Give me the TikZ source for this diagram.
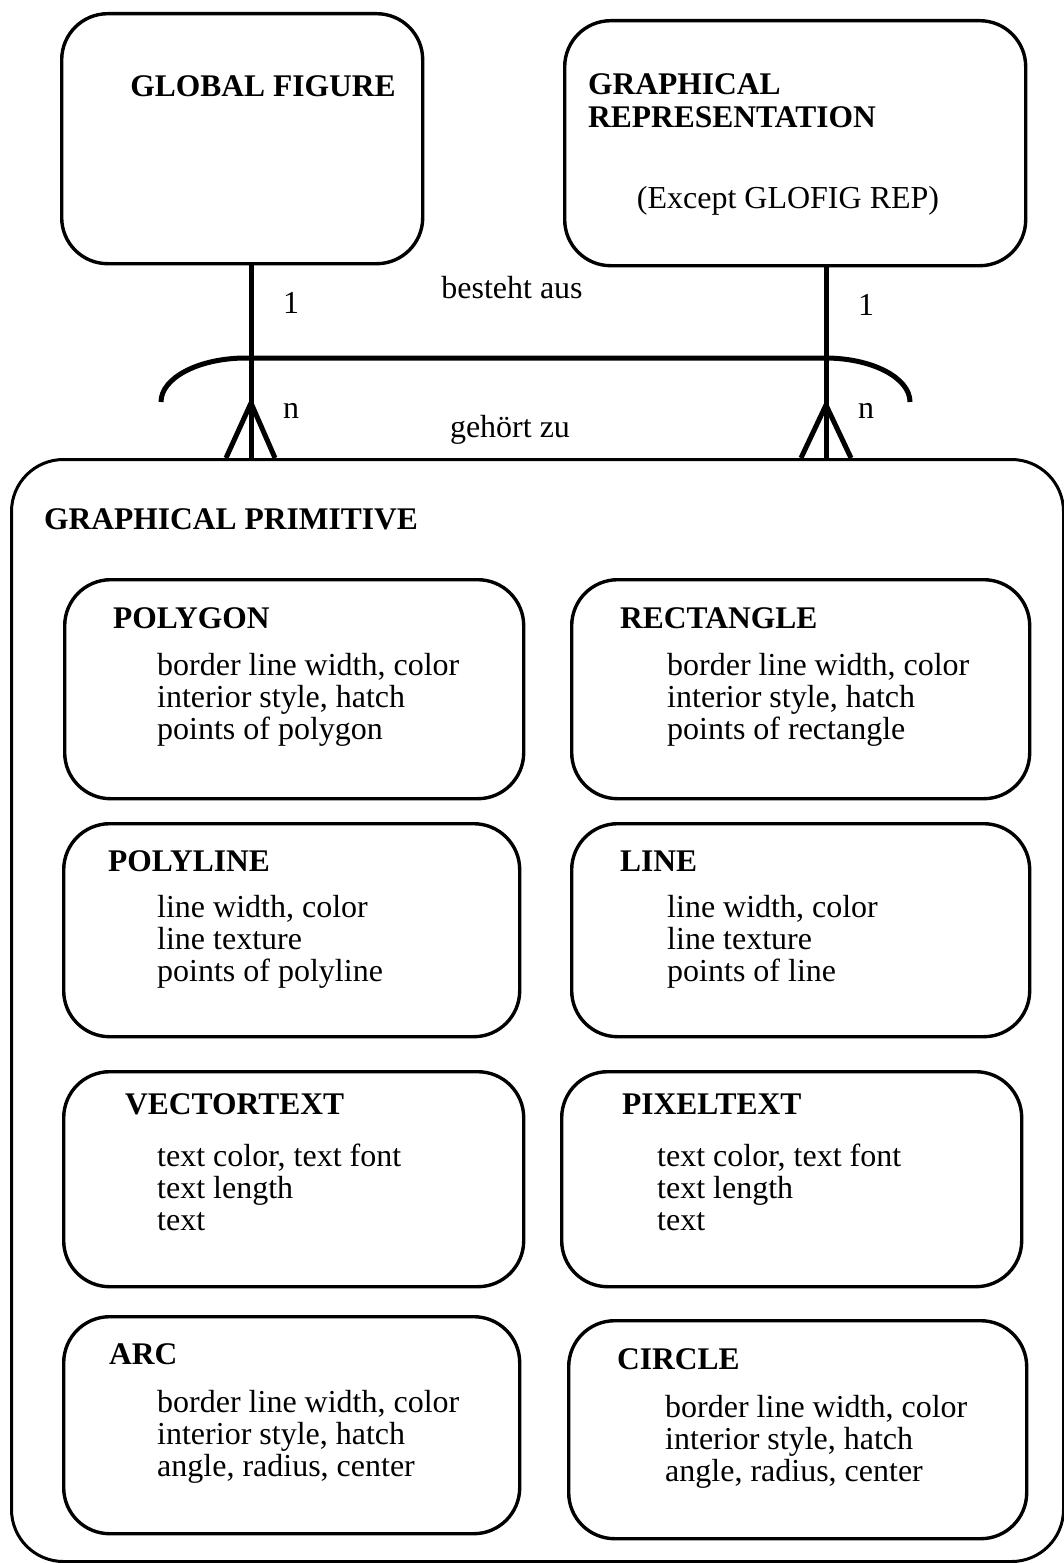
\documentclass[tikz,border=0pt]{standalone}
\usepackage{fontspec}
\setmainfont{Liberation Serif}
\begin{document}
\begin{tikzpicture}[x=1pt,y=-1pt,
  rbox/.style={draw, line width=3.4pt, rounded corners=46pt, rectangle,
    inner sep=0pt, anchor=north west},
  conn/.style={line width=5pt},
  hd/.style={font=\fontsize{31.5}{32}\selectfont\bfseries, inner sep=0pt, anchor=base west},
  bd/.style={font=\fontsize{32}{32}\selectfont, inner sep=0pt, anchor=base west},
  lbl/.style={font=\fontsize{32}{32}\selectfont, inner sep=0pt, anchor=base}]
\useasboundingbox (0,0) rectangle (1064,1563);

% rounded box: name, x1, y1, x2, y2
\newcommand\rbox[5]{%
  \node[rbox, minimum width={(#4-#2)*1pt}, minimum height={(#5-#3)*1pt}] (#1) at (#2,#3) {};}
% title and three attribute lines: name, title x, title baseline, title, body x, first baseline, lines
\newcommand\rtext[9]{%
  \node[hd] (#1-t) at (#2,#3) {#4};
  \node[bd] (#1-a) at (#5,#6) {#7};
  \node[bd] (#1-b) at (#5,#6+32) {#8};
  \node[bd] (#1-c) at (#5,#6+64) {#9};}

% top entities
\rbox{gf}{60}{12}{421}{262}
\node[hd, anchor=base] (gf-t) at (263,96) {GLOBAL FIGURE};
\rbox{gr}{563}{19}{1024}{264}
\node[hd] (gr-t1) at (588,94) {GRAPHICAL};
\node[hd] (gr-t2) at (588,127) {REPRESENTATION};
\node[lbl] (gr-x) at (788,208) {(Except GLOFIG REP)};

% enclosing entity
\node[draw, line width=3pt, rounded corners=52pt, rectangle, inner sep=0pt,
  anchor=north west, minimum width=1052pt, minimum height=1102pt] (prim) at (10,458) {};
\node[hd] (prim-t) at (44,529) {GRAPHICAL PRIMITIVE};

% primitives
\rbox{pg}{63}{578}{522}{797}
\rtext{pg}{113}{628}{POLYGON}{157}{675}{border line width, color}{interior style, hatch}{points of polygon}
\rbox{rc}{570}{578}{1028}{797}
\rtext{rc}{620}{628}{RECTANGLE}{667}{675}{border line width, color}{interior style, hatch}{points of rectangle}
\rbox{pl}{62}{822}{518}{1035}
\rtext{pl}{108}{871}{POLYLINE}{157}{917}{line width, color}{line texture}{points of polyline}
\rbox{ln}{570}{822}{1028}{1035}
\rtext{ln}{620}{871}{LINE}{667}{917}{line width, color}{line texture}{points of line}
\rbox{vt}{62}{1070}{522}{1285}
\rtext{vt}{125}{1114}{VECTORTEXT}{157}{1166}{text color, text font}{text length}{text}
\rbox{px}{560}{1070}{1020}{1285}
\rtext{px}{622}{1114}{PIXELTEXT}{657}{1166}{text color, text font}{text length}{text}
\rbox{ar}{62}{1315}{518}{1532}
\rtext{ar}{109}{1364}{ARC}{157}{1412}{border line width, color}{interior style, hatch}{angle, radius, center}
\rbox{ci}{567}{1319}{1025}{1537}
\rtext{ci}{617}{1369}{CIRCLE}{665}{1417}{border line width, color}{interior style, hatch}{angle, radius, center}

% relationship
\coordinate (lx) at (251,0);
\coordinate (rx) at (826,0);
\draw[conn] (gf.south -| lx) -- (prim.north -| lx);
\draw[conn] (gr.south -| rx) -- (prim.north -| rx);
\draw[conn] (161,402) arc[start angle=180, end angle=270, x radius=85, y radius=44]
  -- (825,358) arc[start angle=270, end angle=360, x radius=85, y radius=44];
% crow's feet
\coordinate (lapex) at (251,403);
\coordinate (rapex) at (826,405);
\draw[conn] (lapex) -- ([xshift=-25pt]prim.north -| lx);
\draw[conn] (lapex) -- ([xshift=24pt]prim.north -| lx);
\draw[conn] (rapex) -- ([xshift=-25pt]prim.north -| rx);
\draw[conn] (rapex) -- ([xshift=25pt]prim.north -| rx);

\node[lbl] (one-l) at (291,313) {1};
\node[lbl] (one-r) at (866,315) {1};
\node[lbl] (rel-a) at (512,298) {besteht aus};
\node[lbl] (n-l) at (291,418) {n};
\node[lbl] (n-r) at (866,418) {n};
\node[lbl] (rel-b) at (510,437) {gehört zu};
\end{tikzpicture}
\end{document}
